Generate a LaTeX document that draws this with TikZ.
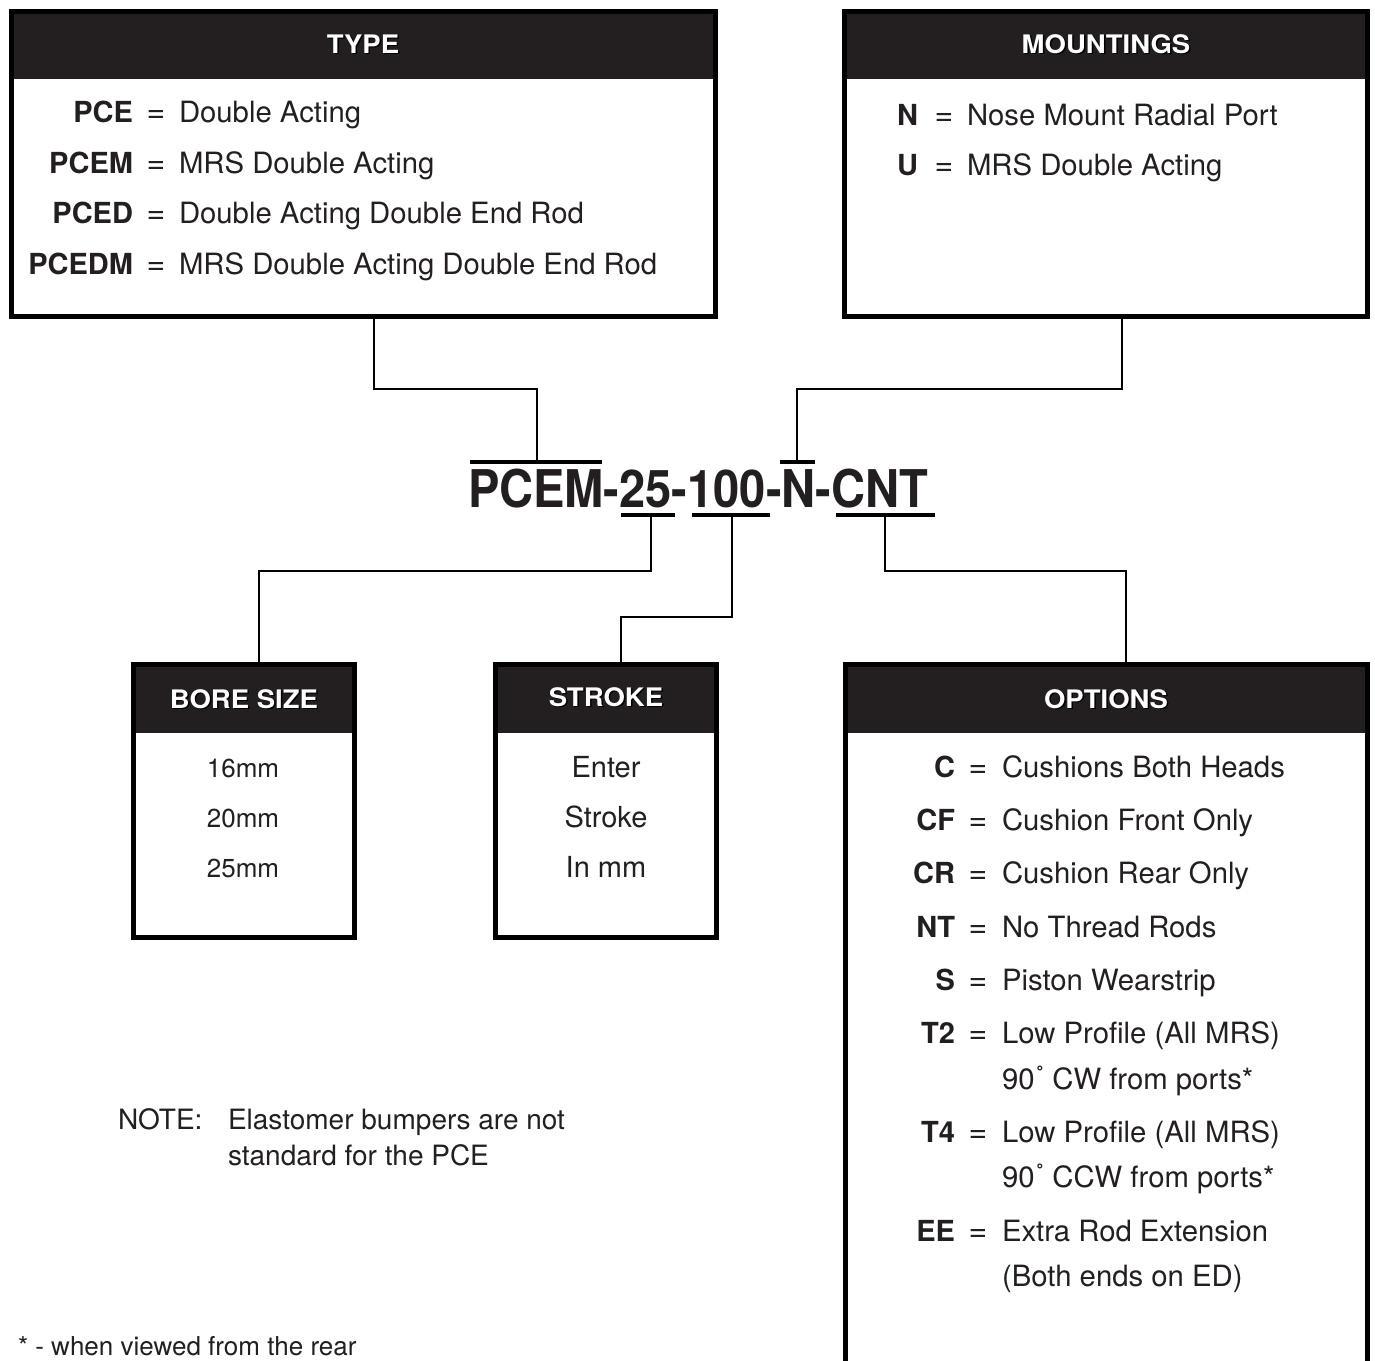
\documentclass[tikz,border=0pt]{standalone}
\usepackage{fontspec}
\setmainfont{TeX Gyre Heros}
\definecolor{ink}{HTML}{231F20}
\tikzset{
  panel/.style={draw=black, line width=5pt, rectangle, inner sep=0pt, outer sep=0pt},
  conn/.style={draw=black, line width=2pt},
  bar/.style={draw=black, line width=4pt},
  hdr/.style={text=white, anchor=base, font=\bfseries\fontsize{25.5}{30}\selectfont},
  hdrs/.style={text=black, anchor=base, font=\bfseries\fontsize{25.5}{30}\selectfont},
  key/.style={anchor=base east, font=\bfseries\fontsize{29}{32}\selectfont},
  eqs/.style={anchor=base, font=\fontsize{32}{32}\selectfont},
  desc/.style={anchor=base west, font=\fontsize{29.3}{32}\selectfont},
  val/.style={anchor=base, font=\fontsize{29}{32}\selectfont},
  bval/.style={anchor=base, font=\fontsize{26}{30}\selectfont},
  ttl/.style={anchor=base west, font=\bfseries\fontsize{52}{56}\selectfont},
  note/.style={anchor=base west, font=\fontsize{28}{32}\selectfont},
}
\newcommand{\hs}[1]{\scalebox{1.08}[1]{#1}}
\newcommand{\ts}[1]{\scalebox{0.905}[1]{#1}}
\newcommand{\ringdeg}{\kern1pt\raisebox{0.12em}{\fontsize{26}{26}\selectfont\char"02DA}}
\begin{document}
\begin{tikzpicture}[x=1pt,y=-1pt, every node/.style={inner sep=0pt, outer sep=0pt, text=ink}]
\useasboundingbox (0,0) rectangle (1375,1360);
\fill[white] (0,0) rectangle (1375,1360);
\clip (0,0) rectangle (1375,1360);

% header fills
\fill[ink] (11.5,11.5) rectangle (715.5,79);
\fill[ink] (844.5,11.5) rectangle (1367.5,79);
\fill[ink] (133.5,664.5) rectangle (354.5,733);
\fill[ink] (495.5,664.5) rectangle (716.5,733);
\fill[ink] (845.5,664.5) rectangle (1367.5,733);

% panels
\node[panel, minimum width=704pt, minimum height=305pt, anchor=north west] (typebox) at (11.5,11.5) {};
\node[panel, minimum width=523pt, minimum height=305pt, anchor=north west] (mountbox) at (844.5,11.5) {};
\node[panel, minimum width=221pt, minimum height=273pt, anchor=north west] (borebox) at (133.5,664.5) {};
\node[panel, minimum width=221pt, minimum height=273pt, anchor=north west] (strokebox) at (495.5,664.5) {};
\node[panel, minimum width=522pt, minimum height=720pt, anchor=north west] (optbox) at (845.5,664.5) {};

% header titles
\node[hdrs] (typehs) at (364.5,54.5) {\hs{TYPE}};
\node[hdr] (typeh) at (363,53) {\hs{TYPE}};
\node[hdrs] (mounths) at (1107.5,54.5) {\hs{MOUNTINGS}};
\node[hdr] (mounth) at (1106,53) {\hs{MOUNTINGS}};
\node[hdrs] (borehs) at (245.5,709.5) {\hs{BORE SIZE}};
\node[hdr] (boreh) at (244,708) {\hs{BORE SIZE}};
\node[hdrs] (strokehs) at (607.5,707.5) {\hs{STROKE}};
\node[hdr] (strokeh) at (606,706) {\hs{STROKE}};
\node[hdrs] (opths) at (1107.5,709.5) {\hs{OPTIONS}};
\node[hdr] (opth) at (1106,708) {\hs{OPTIONS}};

% TYPE rows
\node[key] (tk1) at (133,122) {PCE};   \node[eqs] (te1) at (156,122) {=}; \node[desc] (td1) at (179,122) {Double Acting};
\node[key] (tk2) at (133,173) {PCEM};  \node[eqs] (te2) at (156,173) {=}; \node[desc] (td2) at (179,173) {MRS Double Acting};
\node[key] (tk3) at (133,223) {PCED};  \node[eqs] (te3) at (156,223) {=}; \node[desc] (td3) at (179,223) {Double Acting Double End Rod};
\node[key] (tk4) at (133,274) {PCEDM}; \node[eqs] (te4) at (156,274) {=}; \node[desc] (td4) at (179,274) {MRS Double Acting Double End Rod};

% MOUNTINGS rows
\node[key] (mk1) at (918,125) {N}; \node[eqs] (me1) at (944,125) {=}; \node[desc] (md1) at (967,125) {Nose Mount Radial Port};
\node[key] (mk2) at (918,175) {U}; \node[eqs] (me2) at (944,175) {=}; \node[desc] (md2) at (967,175) {MRS Double Acting};

% BORE values
\node[bval] (b1) at (243,777) {16mm};
\node[bval] (b2) at (243,827) {20mm};
\node[bval] (b3) at (243,877) {25mm};

% STROKE values
\node[val] (s1) at (606,777) {Enter};
\node[val] (s2) at (606,827) {Stroke};
\node[val] (s3) at (606,877) {In mm};

% OPTIONS rows
\node[key] (ok1) at (955,777) {C};  \node[eqs] (oe1) at (978,777) {=}; \node[desc] (od1) at (1002,777) {Cushions Both Heads};
\node[key] (ok2) at (955,830) {CF}; \node[eqs] (oe2) at (978,830) {=}; \node[desc] (od2) at (1002,830) {Cushion Front Only};
\node[key] (ok3) at (955,883) {CR}; \node[eqs] (oe3) at (978,883) {=}; \node[desc] (od3) at (1002,883) {Cushion Rear Only};
\node[key] (ok4) at (955,937) {NT}; \node[eqs] (oe4) at (978,937) {=}; \node[desc] (od4) at (1002,937) {No Thread Rods};
\node[key] (ok5) at (955,990) {S};  \node[eqs] (oe5) at (978,990) {=}; \node[desc] (od5) at (1002,990) {Piston Wearstrip};
\node[key] (ok6) at (955,1043) {T2}; \node[eqs] (oe6) at (978,1043) {=}; \node[desc] (od6) at (1002,1043) {Low Profile (All MRS)};
\node[desc] (od6b) at (1002,1089) {90\ringdeg\ CW from ports*};
\node[key] (ok7) at (955,1142) {T4}; \node[eqs] (oe7) at (978,1142) {=}; \node[desc] (od7) at (1002,1142) {Low Profile (All MRS)};
\node[desc] (od7b) at (1002,1187) {90\ringdeg\ CCW from ports*};
\node[key] (ok8) at (955,1241) {EE}; \node[eqs] (oe8) at (978,1241) {=}; \node[desc] (od8) at (1002,1241) {Extra Rod Extension};
\node[desc] (od8b) at (1002,1286) {(Both ends on ED)};

% title code
\node[ttl] (p1) at (468,507) {\ts{PCEM}};
\node[ttl] (h1) at (p1.base east) {\ts{-}};
\node[ttl] (p2) at (h1.base east) {\ts{25}};
\node[ttl] (h2) at (p2.base east) {\ts{-}};
\node[ttl] (p3) at (h2.base east) {\ts{100}};
\node[ttl] (h3) at (p3.base east) {\ts{-}};
\node[ttl] (p4) at (h3.base east) {\ts{N}};
\node[ttl] (h4) at (p4.base east) {\ts{-}};
\node[ttl] (p5) at (h4.base east) {\ts{CNT}};

% over/under bars
\draw[bar] (470,462) -- (602,462);
\draw[bar] (780,462) -- (815,462);
\draw[bar] (621,515) -- (675,515);
\draw[bar] (692,515) -- (770,515);
\draw[bar] (836,515) -- (935,515);

\coordinate (ovP) at (537,462);
\coordinate (ovN) at (797,462);
\coordinate (un25) at (651,515);
\coordinate (un100) at (732,515);
\coordinate (unC) at (885,515);
\coordinate (cx1) at (374,0);
\coordinate (cx2) at (1122,0);
\coordinate (cx3) at (259,0);
\coordinate (cx4) at (621,0);
\coordinate (cx5) at (1126,0);

% connectors
\draw[conn] (typebox.south -| cx1) -- ++(0,72) -| (ovP);
\draw[conn] (mountbox.south -| cx2) -- ++(0,72) -| (ovN);
\draw[conn] (un25) -- ++(0,56) -| (borebox.north -| cx3);
\draw[conn] (un100) -- ++(0,102) -| (strokebox.north -| cx4);
\draw[conn] (unC) -- ++(0,56) -| (optbox.north -| cx5);

% notes
\node[note] (n1) at (118,1129) {NOTE:};
\node[note] (n2) at (228,1129) {Elastomer bumpers are not};
\node[note] (n3) at (228,1165) {standard for the PCE};
\node[anchor=base west, font=\fontsize{26}{30}\selectfont] (fn) at (18,1355) {* - when viewed from the rear};
\end{tikzpicture}
\end{document}
